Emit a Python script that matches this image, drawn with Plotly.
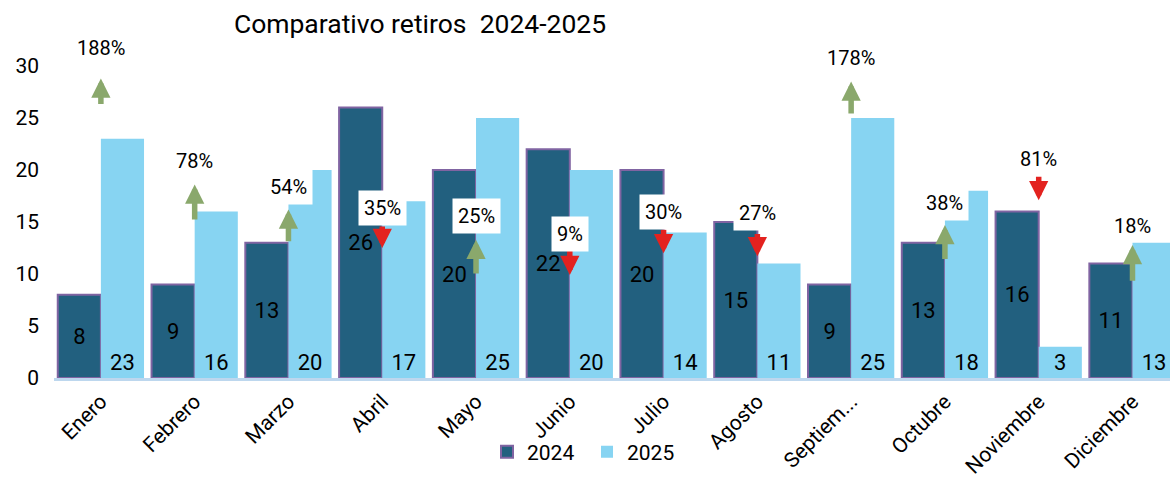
import plotly.graph_objects as go

months = ["Enero", "Febrero", "Marzo", "Abril", "Mayo", "Junio", "Julio",
          "Agosto", "Septiem...", "Octubre", "Noviembre", "Diciembre"]
v2024 = [8, 9, 13, 26, 20, 22, 20, 15, 9, 13, 16, 11]
v2025 = [23, 16, 20, 17, 25, 20, 14, 11, 25, 18, 3, 13]

# label placement (data units) for the % change callouts
pct_text_y = [31.7, 20.9, 18.4, 16.3, 15.6, 13.8, 16.0, 15.9, 30.8, 16.8, 21.1, 14.6]
arrow_tail_y = [26.2, 15.1, 13.0, 14.7, 9.9, 12.5, 14.4, 14.0, 25.3, 11.3, 19.5, 9.2]
arrow_head_y = [28.8, 18.6, 16.2, 12.5, 13.3, 9.9, 12.0, 11.7, 28.5, 14.7, 17.1, 12.8]
boxed = [False, False, True, True, True, True, True, True, False, True, False, False]

FONT = "Roboto"
C24 = "#22607f"
C25 = "#87d4f2"
GREEN = "#8aa86c"
RED = "#e3221f"

fig = go.Figure()
fig.add_trace(go.Bar(
    name="2024", x=months, y=v2024, text=v2024,
    marker=dict(color=C24, line=dict(color="#8064a2", width=2)),
    textposition="inside", insidetextanchor="middle",
    textfont=dict(color="black", size=22, family=FONT),
    constraintext="none",
))
fig.add_trace(go.Bar(
    name="2025", x=months, y=v2025, text=v2025,
    marker=dict(color=C25, line=dict(color=C25, width=0)),
    textposition="inside", insidetextanchor="start",
    textfont=dict(color="black", size=22, family=FONT),
    constraintext="none",
))

for i, m in enumerate(months):
    change = (v2025[i] - v2024[i]) / v2024[i]
    pct = f"{round(abs(change) * 100)}%"
    col = GREEN if change > 0 else RED
    fig.add_annotation(
        x=i, y=arrow_head_y[i], ax=i, ay=arrow_tail_y[i],
        xref="x", yref="y", axref="x", ayref="y",
        text="", showarrow=True, arrowhead=2, arrowsize=0.7,
        arrowwidth=5.5, arrowcolor=col,
    )
    fig.add_annotation(
        x=i, y=pct_text_y[i], xref="x", yref="y", text=pct,
        showarrow=False, font=dict(size=20, color="black", family=FONT),
        bgcolor="white" if boxed[i] else "rgba(0,0,0,0)", borderpad=5,
    )

fig.update_layout(
    width=1170, height=480,
    margin=dict(l=54, r=0, t=40, b=102),
    paper_bgcolor="white", plot_bgcolor="white",
    barmode="group", bargap=0.08, bargroupgap=0,
    font=dict(family=FONT, size=20, color="black"),
    title=dict(text="Comparativo retiros  2024-2025", x=0.359, xanchor="center",
               y=0.95, yanchor="middle", font=dict(size=26.5, color="black", family=FONT)),
    legend=dict(orientation="h", x=0.388, xanchor="left", y=-0.219, yanchor="middle",
                font=dict(size=21, family=FONT), bgcolor="rgba(0,0,0,0)",
                itemwidth=30, tracegroupgap=0, entrywidth=55, entrywidthmode="pixels"),
    showlegend=True,
)
fig.update_xaxes(range=[-0.5, 11.4], tickangle=-45, showline=True, linecolor="#bdd7ee",
                 linewidth=3, ticks="", tickfont=dict(size=21, family=FONT, color="black"),
                 showgrid=False, zeroline=False)
fig.update_yaxes(range=[0, 32.5], tickvals=[0, 5, 10, 15, 20, 25, 30], showgrid=False,
                 zeroline=False, showline=False, ticks="", ticklabelstandoff=14,
                 tickfont=dict(size=21, family=FONT, color="black"))

fig.write_html("out.html", config={"displayModeBar": False},
               post_script="document.body.style.margin='0';")
